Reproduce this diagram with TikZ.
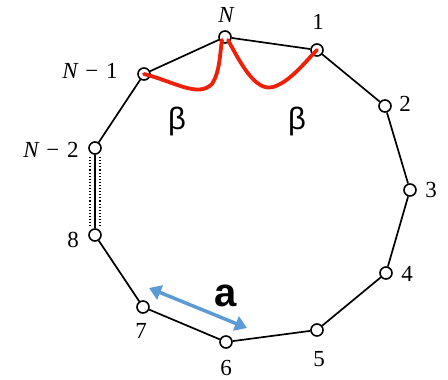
\documentclass[tikz,border=0pt]{standalone}
\usepackage{fontspec}
\setmainfont{Liberation Serif}
\newfontfamily\arialf{Liberation Sans}
\usetikzlibrary{arrows.meta}
\definecolor{redc}{RGB}{238,32,8}
\definecolor{bluec}{RGB}{91,155,213}
\tikzset{
  site/.style={circle,draw=black,fill=white,line width=1.6pt,minimum size=12pt,inner sep=0pt},
  bond/.style={draw=black,line width=1.7pt},
  lab/.style={font=\fontsize{23}{23}\selectfont,inner sep=0pt},
  beta/.style={draw=redc,line width=3.8pt,line cap=round},
  greek/.style={font=\arialf\fontsize{31}{31}\selectfont,inner sep=0pt},
}
\begin{document}
\begin{tikzpicture}[x=1pt,y=-1pt]
\useasboundingbox (0,0) rectangle (448,380);
\fill[white] (0,0) rectangle (448,380);
% sites
\node[site] (nN) at (225,37) {};
\node[site] (n1) at (317,50) {};
\node[site] (nm1) at (144,74) {};
\node[site] (n2) at (385,106) {};
\node[site] (n3) at (410,190) {};
\node[site] (n4) at (386,273) {};
\node[site] (n5) at (317,330) {};
\node[site] (n6) at (226,342) {};
\node[site] (n7) at (143,307) {};
\node[site] (n8) at (95,235) {};
\node[site] (nm2) at (95,148) {};
% bonds
\draw[bond] (nm1) -- (nN) -- (n1) -- (n2) -- (n3) -- (n4) -- (n5) -- (n6) -- (n7) -- (n8) -- (nm2) -- (nm1);
\coordinate (dl1) at (90,157); \coordinate (dl2) at (90,228);
\coordinate (dr1) at (100,157); \coordinate (dr2) at (100,228);
\draw[line width=1.1pt,dotted] (dl1) -- (dl2);
\draw[line width=1.1pt,dotted] (dr1) -- (dr2);
% labels
\node[lab] at (226,15) {\itshape N};
\node[lab] at (318,22) {1};
\node[lab] at (90,71) {{\itshape N}\,\,−\,\,1};
\node[lab] at (405,104) {2};
\node[lab] at (431,190) {3};
\node[lab] at (407,274) {4};
\node[lab] at (319,359) {5};
\node[lab] at (226,368) {6};
\node[lab] at (141,331) {7};
\node[lab] at (73,240) {8};
\node[lab] at (51,150) {{\itshape N}\,\,−\,\,2};
% red curves
\draw[beta] (nm1.center) .. controls (175,82) and (198,98) .. (212,84) .. controls (220,72) and (220,52) .. (222,40);
\draw[beta] (228,40) .. controls (240,62) and (255,92) .. (273,87) .. controls (290,82) and (305,62) .. (n1.center);
\node[greek] at (177,121) {β};
\node[greek] at (297,121) {β};
% blue arrow
\coordinate (a1) at (149,288);
\coordinate (a2) at (247,328);
\draw[bluec,line width=3.5pt,{Triangle[length=12pt,width=15pt]}-{Triangle[length=12pt,width=15pt]}] (a1) -- (a2);
\node[font=\arialf\bfseries\fontsize{40}{40}\selectfont,inner sep=0pt] at (226,296) {a};
\end{tikzpicture}
\end{document}
